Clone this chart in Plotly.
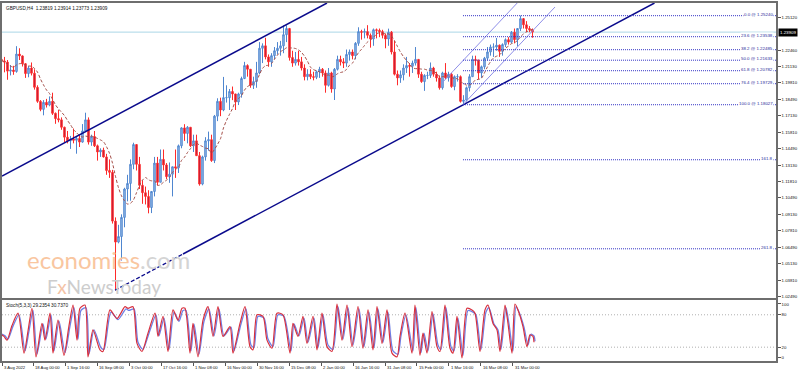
import numpy as np
import pandas as pd
import plotly.graph_objects as go
from plotly.subplots import make_subplots

TITLE_TEXT = "GBPUSD,H4  1.23819 1.23914 1.23773 1.23909"
STOCH_TEXT = "Stoch(5,3,3) 29.2354 30.7370"

# ---------------- daily price data (GBPUSD, 3 Aug 2022 - 10 Apr 2023) ----------------
START_DATE = "2022-08-03"
NO_TRADING = ["2022-12-26"]
FIRST_OPEN = 1.2170
HIGH = [
    # Aug
    1.2212, 1.2190, 1.2165, 1.2124, 1.2118, 1.2277, 1.2260, 1.2202, 1.2140, 1.2116, 1.2145,
    1.2090, 1.1960, 1.1840, 1.1840, 1.1850, 1.1870, 1.1900, 1.1740, 1.1760, 1.1700,
    # Sep
    1.1625, 1.1590, 1.1550, 1.1610, 1.1550, 1.1560, 1.1646, 1.1738, 1.1700, 1.1560, 1.1590,
    1.1480, 1.1450, 1.1455, 1.1405, 1.1360, 1.1275, 1.0890, 1.0830, 1.0915, 1.1130, 1.1235,
    # Oct
    1.1360, 1.1495, 1.1480, 1.1380, 1.1190, 1.1140, 1.1110, 1.1100, 1.1380, 1.1380, 1.1440,
    1.1440, 1.1330, 1.1335, 1.1290, 1.1440, 1.1480, 1.1620, 1.1645, 1.1630, 1.1620,
    # Nov
    1.1560, 1.1560, 1.1420, 1.1390, 1.1540, 1.1585, 1.1560, 1.1720, 1.1855, 1.1860, 1.2028,
    1.1960, 1.1930, 1.1950, 1.1890, 1.1900, 1.2030, 1.2150, 1.2130, 1.2090, 1.2030, 1.2150,
    # Dec
    1.2310, 1.2300, 1.2345, 1.2210, 1.2220, 1.2270, 1.2310, 1.2320, 1.2445, 1.2446, 1.2425,
    1.2240, 1.2230, 1.2240, 1.2190, 1.2130, 1.2090, 1.2090, 1.2070, 1.2080, 1.2110,
    # Jan
    1.2100, 1.2080, 1.2100, 1.2070, 1.2100, 1.2200, 1.2200, 1.2180, 1.2250, 1.2250, 1.2250,
    1.2310, 1.2430, 1.2410, 1.2420, 1.2447, 1.2380, 1.2420, 1.2420, 1.2420, 1.2410, 1.2380,
    # Feb
    1.2419, 1.2400, 1.2320, 1.2080, 1.2080, 1.2130, 1.2190, 1.2140, 1.2160, 1.2270,
    1.2170, 1.2070, 1.2050, 1.2070, 1.2145, 1.2110, 1.2070, 1.2040, 1.2070, 1.2140,
    # Mar
    1.2070, 1.2060, 1.2040, 1.2050, 1.2040, 1.1880, 1.1950, 1.2050, 1.2200, 1.2200, 1.2170, 1.2120,
    1.2190, 1.2270, 1.2290, 1.2300, 1.2343, 1.2290, 1.2300, 1.2340, 1.2350, 1.2400, 1.2420,
    # Apr
    1.2423, 1.2525, 1.2505, 1.2480, 1.2440, 1.2420,
]
LOW = [
    1.2135, 1.2065, 1.2005, 1.2040, 1.2045, 1.2062, 1.2165, 1.2112, 1.2020, 1.2025, 1.2040,
    1.1925, 1.1818, 1.1750, 1.1717, 1.1780, 1.1790, 1.1720, 1.1648, 1.1660, 1.1600,
    1.1500, 1.1490, 1.1445, 1.1490, 1.1406, 1.1460, 1.1495, 1.1580, 1.1480, 1.1470, 1.1460,
    1.1350, 1.1380, 1.1375, 1.1235, 1.1210, 1.0840, 1.0300, 1.0680, 1.0540, 1.0810, 1.1020,
    1.1025, 1.1280, 1.1270, 1.1120, 1.1000, 1.0995, 1.0923, 1.0925, 1.1060, 1.1150, 1.1180,
    1.1270, 1.1200, 1.1170, 1.1060, 1.1210, 1.1250, 1.1450, 1.1510, 1.1490, 1.1460,
    1.1420, 1.1390, 1.1147, 1.1150, 1.1350, 1.1430, 1.1340, 1.1330, 1.1670, 1.1710, 1.1750,
    1.1820, 1.1760, 1.1840, 1.1760, 1.1800, 1.1860, 1.2010, 1.2030, 1.1940, 1.1930, 1.1940,
    1.2050, 1.2140, 1.2170, 1.2110, 1.2110, 1.2170, 1.2210, 1.2200, 1.2220, 1.2310, 1.2160,
    1.2110, 1.2120, 1.2120, 1.2080, 1.2000, 1.2000, 1.2010, 1.2000, 1.2010, 1.2020,
    1.2030, 1.1900, 1.1950, 1.1900, 1.1841, 1.2080, 1.2120, 1.2100, 1.2110, 1.2160, 1.2170,
    1.2170, 1.2280, 1.2330, 1.2340, 1.2340, 1.2265, 1.2280, 1.2340, 1.2350, 1.2340, 1.2260,
    1.2280, 1.2210, 1.2040, 1.1960, 1.1980, 1.2000, 1.2060, 1.2030, 1.2060, 1.2120,
    1.2020, 1.1980, 1.1915, 1.2010, 1.2020, 1.2030, 1.1990, 1.1925, 1.1925, 1.2010,
    1.1990, 1.1940, 1.1920, 1.1990, 1.1820, 1.1803, 1.1830, 1.1910, 1.2040, 1.2120, 1.2010, 1.2020,
    1.2090, 1.2160, 1.2200, 1.2190, 1.2240, 1.2190, 1.2200, 1.2270, 1.2290, 1.2300, 1.2300,
    1.2275, 1.2400, 1.2420, 1.2390, 1.2390, 1.2345,
]
CLOSE = [
    1.2157, 1.2148, 1.2075, 1.2083, 1.2072, 1.2213, 1.2198, 1.2135, 1.2055, 1.2100, 1.2058,
    1.1944, 1.1830, 1.1765, 1.1822, 1.1800, 1.1830, 1.1733, 1.1690, 1.1680, 1.1620,
    1.1540, 1.1510, 1.1525, 1.1515, 1.1530, 1.1500, 1.1590, 1.1680, 1.1500, 1.1545, 1.1470,
    1.1420, 1.1435, 1.1380, 1.1270, 1.1255, 1.0860, 1.0690, 1.0735, 1.0890, 1.1120, 1.1165,
    1.1320, 1.1480, 1.1320, 1.1150, 1.1090, 1.1060, 1.0970, 1.1100, 1.1330, 1.1175, 1.1360,
    1.1315, 1.1220, 1.1240, 1.1300, 1.1290, 1.1470, 1.1615, 1.1570, 1.1620, 1.1470,
    1.1510, 1.1390, 1.1160, 1.1380, 1.1510, 1.1520, 1.1350, 1.1710, 1.1830, 1.1760, 1.1860,
    1.1860, 1.1910, 1.1890, 1.1825, 1.1890, 1.2015, 1.2120, 1.2090, 1.1960, 1.1990, 1.2060,
    1.2260, 1.2280, 1.2190, 1.2150, 1.2200, 1.2240, 1.2260, 1.2280, 1.2370, 1.2420, 1.2185,
    1.2140, 1.2170, 1.2150, 1.2100, 1.2030, 1.2050, 1.2030, 1.2025, 1.2070, 1.2090,
    1.2060, 1.1960, 1.2060, 1.1930, 1.2090, 1.2170, 1.2150, 1.2140, 1.2210, 1.2230, 1.2200,
    1.2300, 1.2395, 1.2390, 1.2395, 1.2365, 1.2335, 1.2410, 1.2405, 1.2395, 1.2365, 1.2335,
    1.2390, 1.2230, 1.2050, 1.2020, 1.2045, 1.2100, 1.2120, 1.2115, 1.2140, 1.2170,
    1.2050, 1.1990, 1.2040, 1.2040, 1.2100, 1.2050, 1.2020, 1.1940, 1.2060, 1.2020,
    1.2050, 1.1950, 1.2030, 1.2030, 1.1830, 1.1840, 1.1940, 1.2030, 1.2170, 1.2160, 1.2060, 1.2110,
    1.2180, 1.2230, 1.2270, 1.2270, 1.2285, 1.2235, 1.2290, 1.2330, 1.2310, 1.2390, 1.2330,
    1.2420, 1.2500, 1.2450, 1.2420, 1.2410, 1.2391,
]
LAST_PRICE = 1.23909
MA_DAYS = 8

# ---------------- stochastic readings (H4 bar number from 3 Aug 00:00) ----------------
STOCH_BAR = [0, 8, 14, 24, 36, 48, 56, 64, 72, 84, 90, 100, 106, 116, 128, 138, 146, 154, 160, 170,
             176, 186, 200, 206, 220, 234, 250, 256, 266, 274, 284, 296, 310, 316, 326, 336, 346, 356, 364, 370,
             380, 386, 396, 406, 416, 426, 436, 446, 460, 466, 480, 490, 500, 506, 514, 526, 534, 544, 554, 566,
             580, 586, 596, 606, 614, 626, 634, 644, 654, 664, 674, 684, 694, 704, 716, 726, 736, 746, 754, 764,
             774, 784, 794, 800, 810, 824, 830, 840, 846, 854, 864, 874, 880, 890, 900, 906, 914, 924, 934, 944,
             950, 960, 970, 976, 986, 994, 1000, 1010, 1016, 1024, 1030, 1036, 1046, 1054, 1060, 1066, 1068]
STOCH_K = [45, 40, 33, 60, 83, 9, 50, 92, 2, 64, 33, 83, 9, 70, 5, 60, 98, 33, 92, 98,
           2, 52, 15, 12, 89, 73, 95, 92, 95, 27, 12, 46, 83, 40, 77, 12, 89, 70, 92, 92,
           9, 64, 2, 70, 95, 40, 95, 40, 58, 9, 64, 95, 21, 15, 80, 77, 33, 18, 83, 80,
           9, 64, 40, 77, 27, 77, 15, 83, 21, 12, 100, 33, 98, 21, 95, 18, 89, 15, 95, 27,
           89, 9, 2, 40, 83, 9, 98, 5, 46, 9, 86, 21, 12, 98, 18, 9, 77, 0, 92, 89,
           83, 12, 89, 98, 64, 52, 12, 98, 64, 9, 100, 89, 58, 21, 43, 40, 29]
STOCH_D = [45, 41, 35, 59, 80, 13, 50, 88, 7, 63, 35, 80, 13, 68, 10, 59, 93, 35, 88, 93,
           7, 52, 19, 16, 85, 71, 91, 88, 91, 29, 16, 46, 80, 41, 74, 16, 85, 68, 88, 88,
           13, 63, 7, 68, 91, 41, 91, 41, 57, 13, 63, 91, 24, 19, 77, 74, 35, 21, 80, 77,
           13, 63, 41, 74, 29, 74, 19, 80, 24, 16, 95, 35, 93, 24, 91, 21, 85, 19, 91, 29,
           85, 13, 7, 41, 80, 13, 93, 10, 46, 13, 82, 24, 16, 93, 21, 13, 74, 5, 88, 85,
           80, 16, 85, 93, 63, 52, 16, 93, 63, 13, 95, 85, 57, 24, 44, 41, 31]
STOCH_D_LAG_BARS = 2
STOCH_LEVELS = [20, 80]
STOCH_TICKS = [0, 20, 80, 100]

# ---------------- axes ----------------
Y_TICKS = [1.25120, 1.22460, 1.21130, 1.19810, 1.18490, 1.17130, 1.15810, 1.14490, 1.13130,
           1.11810, 1.10490, 1.09130, 1.07810, 1.06490, 1.05130, 1.03810, 1.02490]
Y_RANGE = [1.02372, 1.26267]
STOCH_RANGE = [-5.6, 107.4]
VIEW_LEFT = "2022-08-03 16:00"
VIEW_RIGHT_DAYS = 258.67
X_TICK_TIMES = ["2022-08-03 16:00", "2022-08-18 00:00", "2022-09-01 16:00", "2022-09-16 08:00",
                "2022-10-03 00:00", "2022-10-17 16:00", "2022-11-01 08:00", "2022-11-16 00:00",
                "2022-11-30 16:00", "2022-12-15 08:00", "2023-01-02 00:00", "2023-01-16 16:00",
                "2023-01-31 08:00", "2023-02-15 00:00", "2023-03-01 16:00", "2023-03-16 08:00",
                "2023-03-31 00:00"]
X_TICK_LABELS = ["3 Aug 2022", "18 Aug 00:00", "1 Sep 16:00", "16 Sep 08:00", "3 Oct 00:00",
                 "17 Oct 16:00", "1 Nov 08:00", "16 Nov 00:00", "30 Nov 16:00", "15 Dec 08:00",
                 "2 Jan 00:00", "16 Jan 16:00", "31 Jan 08:00", "15 Feb 00:00", "1 Mar 16:00",
                 "16 Mar 08:00", "31 Mar 00:00"]

# ---------------- drawing objects ----------------
BIG_UPPER = [("2022-08-03 16:00", 1.1225), ("2023-01-04 00:00", 1.26267)]
BIG_LOWER = [("2022-09-26 08:00", 1.0300), ("2023-03-08 12:00", 1.1803)]
BIG_LOWER_DASH_END = "2022-10-27 00:00"
SMALL_LOWER = [("2023-03-08 08:00", 1.1803), ("2023-04-20 00:00", 1.2594)]
SMALL_UPPER = [("2023-02-27 08:00", 1.1979), ("2023-04-03 10:00", 1.2627)]
FIB_START = "2023-03-08 08:00"
FIB_0 = 1.25240
FIB_100 = 1.18027
FIB_LEVELS = [0.0, 23.6, 38.2, 50.0, 61.8, 76.4, 100.0, 161.8, 261.8]

# ---------------- calendar helpers ----------------
cal = pd.bdate_range(START_DATE, "2023-12-29")
cal = cal[~cal.isin(pd.to_datetime(NO_TRADING))]
DAY = {d: i for i, d in enumerate(cal)}


def tx(ts):
    t = pd.Timestamp(ts)
    d = t.normalize()
    return DAY[d] + (t - d) / pd.Timedelta(hours=24)


n = len(CLOSE)
assert len(HIGH) == n and len(LOW) == n, (len(HIGH), len(LOW), n)
assert len(STOCH_BAR) == len(STOCH_K) == len(STOCH_D)
opens = [FIRST_OPEN] + CLOSE[:-1]
highs = [max(h, o, c) for h, o, c in zip(HIGH, opens, CLOSE)]
lows = [min(l, o, c) for l, o, c in zip(LOW, opens, CLOSE)]
xc = np.arange(n) + 0.5
ma = pd.Series(CLOSE).rolling(MA_DAYS, min_periods=1).mean()

x_left = tx(VIEW_LEFT)
x_right = VIEW_RIGHT_DAYS

fig = make_subplots(rows=2, cols=1, shared_xaxes=True, vertical_spacing=0.01)

fig.add_trace(go.Candlestick(
    x=xc, open=opens, high=highs, low=lows, close=CLOSE,
    increasing=dict(line=dict(color="#4f86cf", width=1), fillcolor="#9cc0e8"),
    decreasing=dict(line=dict(color="#ff2a2a", width=1), fillcolor="#a8163a"),
    whiskerwidth=0, showlegend=False, hoverinfo="skip"), row=1, col=1)

fig.add_trace(go.Scatter(
    x=xc, y=ma, mode="lines", hoverinfo="skip", showlegend=False,
    line=dict(color="#a5504a", width=1, dash="3px,2px", shape="spline", smoothing=0.8)), row=1, col=1)

sx = np.array(STOCH_BAR) / 6.0
fig.add_trace(go.Scatter(
    x=(np.array(STOCH_BAR) + STOCH_D_LAG_BARS) / 6.0, y=STOCH_D, mode="lines", hoverinfo="skip",
    showlegend=False, line=dict(color="#6f80e6", width=1.3, shape="spline", smoothing=0.7)), row=2, col=1)
fig.add_trace(go.Scatter(
    x=sx, y=STOCH_K, mode="lines", hoverinfo="skip", showlegend=False,
    line=dict(color="#d8303e", width=1.2, shape="spline", smoothing=0.7)), row=2, col=1)

shapes = []


def line(x0, y0, x1, y1, color, width, dash="solid", xref="x", yref="y", layer="above"):
    shapes.append(dict(type="line", x0=x0, y0=y0, x1=x1, y1=y1, xref=xref, yref=yref,
                       layer=layer, line=dict(color=color, width=width, dash=dash)))


def to_top(anchors):
    (ta, pa), (tb, pb) = anchors
    xa, xb = tx(ta), tx(tb)
    slope = (pb - pa) / (xb - xa)
    return xa, pa, slope


# current price line
line(x_left, LAST_PRICE, x_right, LAST_PRICE, "#aad6e6", 1, layer="below")

# big channel
xa, pa, s = to_top(BIG_UPPER)
line(xa, pa, xa + (Y_RANGE[1] - pa) / s, Y_RANGE[1], "#0a0a8c", 1.5)
xa, pa, s = to_top(BIG_LOWER)
xd = tx(BIG_LOWER_DASH_END)
line(xa, pa, xd, pa + s * (xd - xa), "#0a0a8c", 1.3, dash="4px,2px")
line(xd, pa + s * (xd - xa), xa + (Y_RANGE[1] - pa) / s, Y_RANGE[1], "#0a0a8c", 1.5)

# small channel
for anchors in (SMALL_LOWER, SMALL_UPPER):
    xa, pa, s = to_top(anchors)
    xe = xa + (Y_RANGE[1] - pa) / s
    xb = tx(anchors[1][0])
    xe = min(xe, xb)
    line(xa, pa, xe, pa + s * (xe - xa), "#8e8ee8", 1)

# fibonacci
annotations = []
fx0 = tx(FIB_START)
rng = FIB_0 - FIB_100
for lvl in FIB_LEVELS:
    price = FIB_0 - rng * lvl / 100.0
    line(fx0, price, x_right, price, "#3434c4", 1, dash="1px,1px")
    txt = f"{lvl:.1f} @ {price:.5f}" if lvl <= 100 else f"{lvl:.1f}"
    annotations.append(dict(x=x_right - 0.7, y=price, xref="x", yref="y", text=txt, showarrow=False,
                            xanchor="right", yanchor="bottom", yshift=-2, bgcolor="white", borderpad=0,
                            font=dict(size=4.4, color="#2a2a9a")))

# stoch levels
for lv in STOCH_LEVELS:
    line(x_left, lv, x_right, lv, "#b0b0b0", 1, dash="1px,2px", xref="x2", yref="y2", layer="below")

fig.update_layout(shapes=shapes)

# titles
annotations.append(dict(x=0, y=1, xref="paper", yref="paper", text=TITLE_TEXT, showarrow=False,
                        xanchor="left", yanchor="top", xshift=2, yshift=-1, font=dict(size=4.7, color="#111")))
annotations.append(dict(x=0, y=0.1704, xref="paper", yref="paper", text=STOCH_TEXT, showarrow=False,
                        xanchor="left", yanchor="top", xshift=2, yshift=-1, font=dict(size=4.7, color="#111")))
# price label
annotations.append(dict(x=1, y=LAST_PRICE, xref="paper", yref="y", text=f"{LAST_PRICE:.5f}", showarrow=False,
                        xanchor="left", xshift=2, bgcolor="black", borderpad=1,
                        font=dict(size=4.4, color="white")))
# x labels
tickx = [tx(t) for t in X_TICK_TIMES]
for xv, lab in zip(tickx, X_TICK_LABELS):
    annotations.append(dict(x=xv, y=0, xref="x2", yref="paper", text=lab, showarrow=False,
                            xanchor="left", yanchor="top", xshift=0, yshift=-2,
                            font=dict(size=4.2, color="#111")))
# watermark
annotations.append(dict(x=(25 - 2) / 774, y=(361 - 259) / 358, xref="paper", yref="paper",
                        text='<span style="color:#f9c6a0">economies</span><span style="color:#d4d4d4">.com</span>',
                        showarrow=False, xanchor="left", yanchor="middle",
                        font=dict(size=24, family="Lato")))
annotations.append(dict(x=(45 - 2) / 774, y=(361 - 286) / 358, xref="paper", yref="paper",
                        text='<span style="color:#cdcdcd">F</span><span style="color:#f4c3a6">x</span>'
                             '<span style="color:#cdcdcd">NewsToday</span>',
                        showarrow=False, xanchor="left", yanchor="middle",
                        font=dict(size=19, family="Lato")))

axis_common = dict(showgrid=False, zeroline=False, showline=True, mirror=True,
                   linecolor="#6e6e6e", linewidth=1.5, automargin=False)

fig.update_layout(
    width=798, height=372,
    margin=dict(l=2, r=22, t=3, b=11),
    paper_bgcolor="white", plot_bgcolor="white",
    showlegend=False,
    font=dict(family="Liberation Sans, Arial, sans-serif", color="#111"),
    annotations=annotations,
    xaxis=dict(range=[x_left, x_right], showticklabels=False, ticks="", rangeslider=dict(visible=False),
               **axis_common),
    xaxis2=dict(range=[x_left, x_right], showticklabels=False, ticks="outside", ticklen=3,
                tickcolor="#555", tickvals=tickx, matches="x", **axis_common),
    yaxis=dict(domain=[0.176, 1], range=Y_RANGE, side="right", tickvals=Y_TICKS,
               ticktext=[f"{v:.5f}" for v in Y_TICKS], ticks="outside", ticklen=3, tickcolor="#555",
               tickfont=dict(size=4.3, color="#111"), **axis_common),
    yaxis2=dict(domain=[0, 0.1704], range=STOCH_RANGE, side="right", tickvals=STOCH_TICKS,
                ticks="outside", ticklen=3, tickcolor="#555",
                tickfont=dict(size=4.3, color="#111"), **axis_common),
)

fig.write_html("out.html", config={"displayModeBar": False},
               post_script="document.body.style.margin='0';document.body.style.padding='0';")
